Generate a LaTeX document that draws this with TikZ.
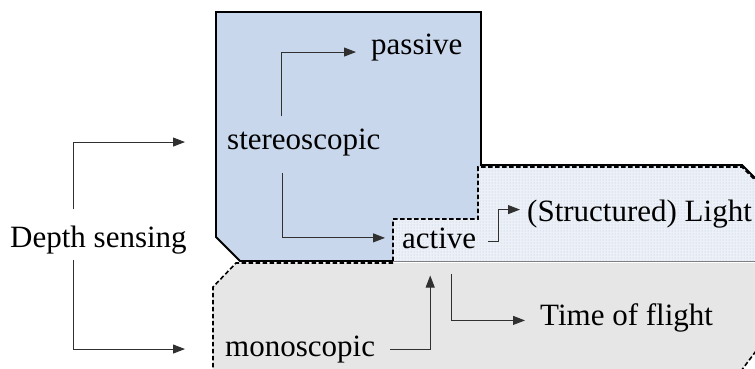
\documentclass[tikz,border=0pt]{standalone}
\usepackage{fontspec}
\setmainfont{Liberation Serif}
\usepackage{tikz}
\usetikzlibrary{arrows.meta, patterns, positioning}
\definecolor{stereofill}{HTML}{C9D7ED}
\definecolor{activefill}{HTML}{EDF1F7}
\definecolor{activedot}{HTML}{AFC3E3}
\definecolor{monofill}{HTML}{E6E6E6}
\definecolor{arrowcol}{HTML}{303030}
\tikzset{
x=1pt, y=-1pt, % pixel-like units, y going down
word/.style={anchor=base west, inner sep=0pt, font=\fontsize{31}{37}\selectfont}, % every label
arr/.style={draw=arrowcol, line width=0.9pt, -{Triangle[length=12pt,width=9pt]}}, % bent arrows
solidborder/.style={draw=black, line width=1.8pt, line join=miter},
dashborder/.style={draw=black, line width=1.6pt, dash pattern=on 4.5pt off 2.5pt},
}

\begin{document}
\begin{tikzpicture}
  \useasboundingbox (0,0) rectangle (755,369);

  % regions
  \fill[monofill] (236,263) -- (756,263) -- (756,351) -- (741,371) -- (213,371) -- (213,287) -- cycle;
  \draw[dashborder] (393,263) -- (236,263) -- (213,287) -- (213,371);
  \draw[dashborder] (756,351) -- (741,371);
  \path[solidborder, fill=stereofill] (216,12) -- (481,12) -- (481,165) -- (742,165) -- (756,179)
    -- (756,261) -- (240,261) -- (216,237) -- cycle;
  \fill[activefill] (393,261) -- (393,219) -- (478,219) -- (478,167) -- (742,167) -- (756,181) -- (756,261) -- cycle;
  \fill[pattern=dots, pattern color=activedot] (393,261) -- (393,219) -- (478,219) -- (478,167) -- (742,167) -- (756,181) -- (756,261) -- cycle;
  \draw[dashborder] (393,261) -- (393,219) -- (478,219) -- (478,167) -- (742,167) -- (756,181);
  \draw[gray, line width=1.2pt] (393,261.5) -- (756,261.5);

  % labels
  \node[word] (ds) at (10,247) {Depth sensing};
  \node[word] (st) at (227,149) {stereoscopic};
  \node[word] (mo) at (225,356) {monoscopic};
  \node[word] (pa) at (371,55) {passive};
  \node[word] (ac) at (402,248) {active};
  \node[word] (li) at (527,221) {(Structured) Light};
  \node[word] (tf) at (540,325) {Time of flight};

  % connectors
  \draw[arr] ([xshift=-25pt,yshift=16pt]ds.north) |- ([xshift=-42pt]st.west);
  \draw[arr] ([xshift=-25pt,yshift=-6pt]ds.south) |- ([xshift=-40pt]mo.west);
  \draw[arr] ([xshift=-22pt,yshift=12pt]st.north) |- ([xshift=-15pt,yshift=-4pt]pa.west);
  \draw[arr] ([xshift=-21pt,yshift=-17pt]st.south) |- ([xshift=-17pt]ac.west);
  \draw[arr] ([xshift=12pt,yshift=-4pt]ac.east) -- ++(10,0) |- ([xshift=-7pt,yshift=4pt]li.west);
  \draw[arr] ([xshift=12pt,yshift=-25pt]ac.south) |- ([xshift=-15pt,yshift=-3pt]tf.west);
  \draw[arr] ([xshift=15pt]mo.east) -| ([xshift=-9pt,yshift=-27pt]ac.south);
\end{tikzpicture}
\end{document}
